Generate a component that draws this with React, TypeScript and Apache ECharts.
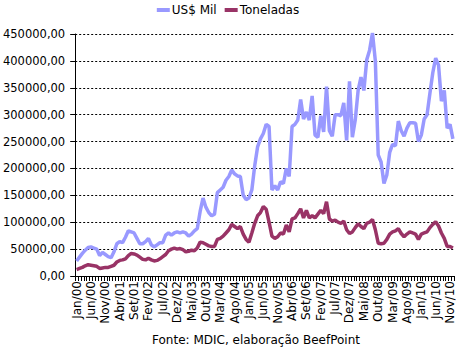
import React, { useEffect, useRef } from "react";
import * as echarts from "echarts";

const monthNames = ["Jan", "Fev", "Mar", "Abr", "Mai", "Jun", "Jul", "Ago", "Set", "Out", "Nov", "Dez"];
const years = ["00", "01", "02", "03", "04", "05", "06", "07", "08", "09", "10"];
const categories: string[] = [];
years.forEach((y) => monthNames.forEach((m) => categories.push(`${m}/${y}`)));

// US$ Mil (thousands of US$)
const usdMil = [
  28000, 35000, 42000, 48000, 53000, 54000, 52000, 50000, 38000, 44000, 40000, 36000,
  34000, 45000, 60000, 64000, 62000, 72000, 84000, 82000, 80000, 70000, 60000, 60000,
  64000, 70000, 58000, 54000, 58000, 62000, 62000, 76000, 80000, 76000, 80000, 82000,
  80000, 82000, 80000, 74000, 78000, 84000, 88000, 120000, 145000, 128000, 118000, 112000,
  115000, 155000, 160000, 165000, 178000, 185000, 197000, 190000, 186000, 185000, 150000, 142000,
  145000, 160000, 205000, 240000, 255000, 265000, 282000, 278000, 160000, 168000, 160000, 175000,
  172000, 200000, 185000, 278000, 282000, 290000, 328000, 292000, 305000, 290000, 335000, 262000,
  258000, 298000, 268000, 352000, 270000, 260000, 300000, 300000, 298000, 322000, 252000, 362000,
  258000, 290000, 345000, 370000, 345000, 402000, 420000, 452000, 400000, 225000, 212000, 172000,
  188000, 230000, 245000, 242000, 288000, 270000, 260000, 275000, 285000, 285000, 284000, 250000,
  262000, 292000, 300000, 340000, 378000, 405000, 392000, 325000, 345000, 275000, 282000, 255000,
];

// Toneladas
const toneladas = [
  12000, 14000, 16000, 19000, 21000, 20000, 19000, 18000, 14000, 15000, 16000, 16000,
  18000, 20000, 26000, 29000, 30000, 32000, 38000, 42000, 41000, 39000, 35000, 31000,
  30000, 33000, 30000, 28000, 29000, 32000, 36000, 40000, 47000, 50000, 52000, 50000,
  51000, 49000, 45000, 46000, 48000, 47000, 52000, 63000, 62000, 59000, 56000, 55000,
  55000, 68000, 70000, 74000, 80000, 86000, 96000, 92000, 88000, 92000, 78000, 68000,
  63000, 80000, 98000, 112000, 118000, 129000, 124000, 100000, 74000, 70000, 73000, 80000,
  78000, 95000, 82000, 106000, 108000, 116000, 125000, 108000, 122000, 108000, 112000, 108000,
  115000, 122000, 116000, 138000, 106000, 102000, 104000, 100000, 98000, 102000, 86000, 79000,
  82000, 90000, 97000, 92000, 88000, 98000, 100000, 105000, 86000, 61000, 60000, 61000,
  68000, 78000, 82000, 84000, 88000, 79000, 73000, 78000, 82000, 80000, 78000, 68000,
  78000, 80000, 82000, 90000, 96000, 101000, 93000, 80000, 70000, 55000, 55000, 52000,
];

const seriesNames = ["US$ Mil", "Toneladas"];
const sourceText = "Fonte: MDIC, elaboração BeefPoint";

export default function App() {
  const ref = useRef<HTMLDivElement>(null);
  useEffect(() => {
    if (!ref.current) return;
    const chart = echarts.init(ref.current, null, { renderer: "svg" });
    const font = "DejaVu Sans";
    chart.setOption({
      animation: false,
      backgroundColor: "#ffffff",
      color: ["#9999FF", "#993366"],
      legend: {
        data: seriesNames,
        top: -1,
        left: "center",
        icon: "rect",
        itemWidth: 13,
        itemHeight: 4,
        itemGap: 8,
        textStyle: { fontFamily: font, fontSize: 12, color: "#000", padding: [0, 0, 0, -3] },
      },
      grid: { left: 73, right: 1, top: 34, bottom: 72, containLabel: false },
      xAxis: {
        type: "category",
        data: categories,
        boundaryGap: true,
        axisLine: { show: true, lineStyle: { color: "#000", width: 1 } },
        axisTick: { show: true, interval: 0, length: 5, lineStyle: { color: "#000" } },
        axisLabel: {
          interval: 4,
          rotate: 90,
          margin: 5,
          fontFamily: font,
          fontSize: 12,
          color: "#000",
        },
        splitLine: { show: false },
      },
      yAxis: {
        type: "value",
        min: 0,
        max: 450000,
        interval: 50000,
        axisLine: { show: true, lineStyle: { color: "#000", width: 1 } },
        axisTick: { show: true, length: 5, lineStyle: { color: "#000" } },
        axisLabel: {
          margin: 10,
          fontFamily: font,
          fontSize: 11.5,
          color: "#000",
          formatter: (v: number) => v.toFixed(2).replace(".", ","),
        },
        splitLine: { show: true, lineStyle: { color: "#000", type: [2, 2], width: 1 } },
      },
      series: [
        {
          name: seriesNames[0],
          type: "line",
          data: usdMil,
          symbol: "none",
          lineStyle: { width: 3.5, color: "#9999FF" },
          itemStyle: { color: "#9999FF" },
        },
        {
          name: seriesNames[1],
          type: "line",
          data: toneladas,
          symbol: "none",
          lineStyle: { width: 3.5, color: "#993366" },
          itemStyle: { color: "#993366" },
        },
      ],
      graphic: [
        {
          type: "text",
          x: 256,
          y: 340,
          style: {
            text: sourceText,
            fontFamily: font,
            fontSize: 12,
            fill: "#000",
            textAlign: "center",
            textVerticalAlign: "middle",
          },
        },
      ],
    });
    return () => chart.dispose();
  }, []);
  return (
    <div
      ref={ref}
      style={{ position: "fixed", left: 0, top: 0, width: 456, height: 348 }}
    />
  );
}
